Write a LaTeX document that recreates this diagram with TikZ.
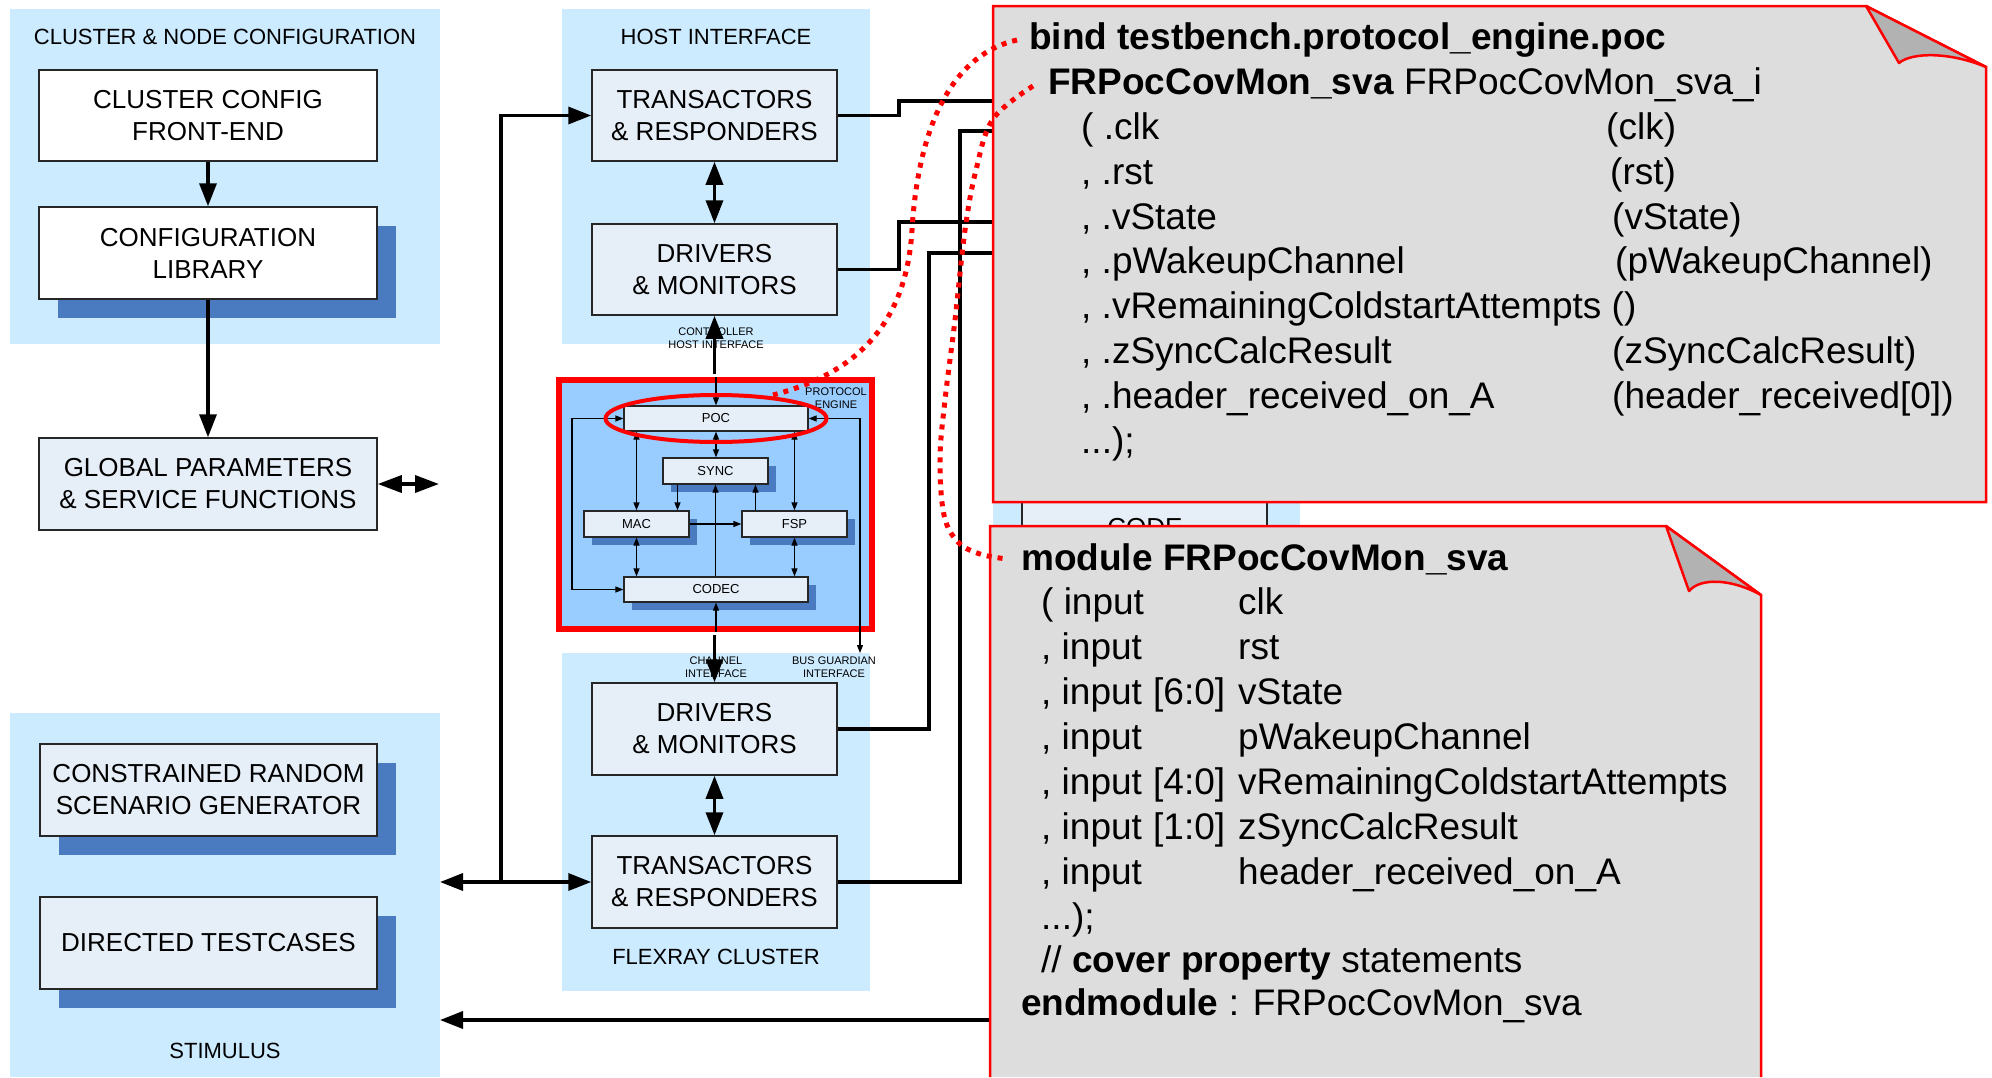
\documentclass[tikz,border=0pt]{standalone}
\usepackage{fontspec}
\setmainfont{Liberation Sans}
\usetikzlibrary{arrows.meta,shapes.geometric,shadows}
\definecolor{panel}{RGB}{204,235,255}
\definecolor{boxfill}{RGB}{230,238,248}
\definecolor{shadowc}{RGB}{74,122,191}
\definecolor{pefill}{RGB}{153,204,255}
\definecolor{notefill}{RGB}{221,221,221}
\definecolor{foldfill}{RGB}{178,178,178}
\tikzset{
  box/.style={draw=black!85, line width=1.5pt, fill=boxfill, inner sep=0pt, align=center, font=\fontsize{26}{32}\selectfont},
  wbox/.style={box, fill=white},
  sbox/.style={draw=black!85, line width=1.2pt, fill=boxfill, inner sep=0pt, font=\fontsize{13}{15}\selectfont},
  shadowbig/.style={drop shadow={shadow xshift=19pt, shadow yshift=-19pt, fill=shadowc, opacity=1}},
  shadowsmall/.style={drop shadow={shadow xshift=8pt, shadow yshift=-8pt, fill=shadowc, opacity=1}},
  ptitle/.style={font=\fontsize{22}{26}\selectfont, inner sep=0pt},
  tinylbl/.style={font=\fontsize{11}{13}\selectfont, align=center, inner sep=0pt},
  thk/.style={line width=3.5pt},
  thn/.style={line width=1.2pt},
  bigtip/.tip={Triangle[length=23pt,width=17pt]},
  midtip/.tip={Triangle[length=24pt,width=17pt]},
  smalltip/.tip={Triangle[length=8pt,width=6pt]},
  nt/.style={font=\fontsize{37}{45}\selectfont, anchor=base west, inner sep=0pt},
  dotc/.style={draw=red, line width=5pt, dash pattern=on 5pt off 6pt},
}
\begin{document}
\begin{tikzpicture}[x=1pt,y=-1pt]
\useasboundingbox (0,0) rectangle (1992,1077);

% ---------- panels ----------
\fill[panel] (10,9) rectangle (440,344);
\node[ptitle] (tCfg) at (225,37) {CLUSTER \& NODE CONFIGURATION};
\fill[panel] (562,9) rectangle (870,344);
\node[ptitle] (tHost) at (716,37) {HOST INTERFACE};
\fill[panel] (562,653) rectangle (870,991);
\node[ptitle] (tFlex) at (716,957) {FLEXRAY CLUSTER};
\fill[panel] (10,713) rectangle (440,1077);
\node[ptitle] (tStim) at (225,1051) {STIMULUS};

% ---------- big boxes ----------
\node[wbox, minimum width=338pt, minimum height=91pt] (ccf) at (208,115.5) {CLUSTER CONFIG\\FRONT-END};
\node[wbox, shadowbig, minimum width=338pt, minimum height=92pt] (clib) at (208,253) {CONFIGURATION\\LIBRARY};
\node[box, minimum width=338pt, minimum height=92pt] (gpsf) at (208,484) {GLOBAL PARAMETERS\\\& SERVICE FUNCTIONS};
\node[box, minimum width=245pt, minimum height=91pt] (trTop) at (714.5,115.5) {TRANSACTORS\\\& RESPONDERS};
\node[box, minimum width=245pt, minimum height=91pt] (drTop) at (714.5,269.5) {DRIVERS\\\& MONITORS};
\node[box, minimum width=245pt, minimum height=92pt] (drBot) at (714.5,729) {DRIVERS\\\& MONITORS};
\node[box, minimum width=245pt, minimum height=92pt] (trBot) at (714.5,882) {TRANSACTORS\\\& RESPONDERS};
\node[box, shadowbig, minimum width=337pt, minimum height=92pt] (crsg) at (208.5,790) {CONSTRAINED RANDOM\\SCENARIO GENERATOR};
\node[box, shadowbig, minimum width=337pt, minimum height=92pt] (dtc) at (208.5,943) {DIRECTED TESTCASES};

% ---------- interface labels ----------
\node[tinylbl] (chi) at (716,338.5) {CONTROLLER\\HOST INTERFACE};
\node[tinylbl] (chn) at (716,667.5) {CHANNEL\\INTERFACE};
\node[tinylbl] (bgi) at (834,667.5) {BUS GUARDIAN\\INTERFACE};

% ---------- protocol engine ----------
\node[draw=red, line width=6pt, fill=pefill, minimum width=313pt, minimum height=249pt, inner sep=0pt] (pe) at (715.5,504.5) {};
\node[tinylbl] (peLbl) at (836,398) {PROTOCOL\\ENGINE};
\node[sbox, minimum width=184pt, minimum height=25pt] (poc) at (716,418.5) {POC};
\node[sbox, shadowsmall, minimum width=105pt, minimum height=26pt] (sync) at (715.5,471) {SYNC};
\node[sbox, shadowsmall, minimum width=105pt, minimum height=26pt] (mac) at (636.5,524) {MAC};
\node[sbox, shadowsmall, minimum width=105pt, minimum height=26pt] (fsp) at (794.5,524) {FSP};
\node[sbox, shadowsmall, minimum width=184pt, minimum height=25pt] (codec) at (716,589.5) {CODEC};

\coordinate (lp) at (572,418.5);
\coordinate (bgEnd) at (860,653);
\draw[thn, smalltip-smalltip] (poc.west) -- (lp) |- (codec.west);
\draw[thn, smalltip-smalltip] (poc.east) -| (bgEnd);
\draw[thn, smalltip-smalltip] (mac.north |- poc.south) -- (mac.north);
\draw[thn, smalltip-smalltip] (fsp.north |- poc.south) -- (fsp.north);
\draw[thn, smalltip-smalltip] (poc.south) -- (poc.south |- sync.north);
\draw[thn, -smalltip] ([xshift=-38pt]sync.south) -- ([xshift=-38pt]sync.south |- mac.north);
\draw[thn, -smalltip] ([xshift=40pt]sync.south |- fsp.north) -- ([xshift=40pt]sync.south);
\draw[thn, -smalltip] (mac.east) -- (fsp.west);
\draw[thn, -smalltip] (codec.north -| sync.south) -- (sync.south);
\draw[thn, smalltip-smalltip] (mac.south) -- (mac.south |- codec.north);
\draw[thn, smalltip-smalltip] (fsp.south) -- (fsp.south |- codec.north);
\draw[thn, -smalltip] (pe.north -| poc.north) -- (poc.north);
\draw[thn, -smalltip] (pe.south -| codec.south) -- (codec.south);

\node[draw=red, line width=4pt, ellipse, minimum width=221pt, minimum height=47pt, inner sep=0pt] (ell) at (716,418.5) {};

% ---------- thick connectors ----------
\draw[thk, -bigtip] (ccf) -- (clib);
\draw[thk, -bigtip] (clib) -- (gpsf);
\coordinate (gpR) at (439,484);
\draw[thk, midtip-midtip] (gpsf.east) -- (gpR);
\draw[thk, bigtip-bigtip] (trTop) -- (drTop);
\draw[thk, -bigtip] ([yshift=3pt]pe.north -| drTop.south) -- (drTop.south);
\draw[thk, -bigtip] ([yshift=-3pt]pe.south -| drBot.north) -- (drBot.north);
\draw[thk, bigtip-bigtip] (drBot) -- (trBot);

\coordinate (stimR) at (440,882);
\coordinate (busX) at (501,882);
\draw[thk, bigtip-bigtip] (stimR) -- (trBot.west);
\draw[thk, -bigtip] (busX) |- (trTop.west);

% right side connectors
\coordinate (nA) at (993,101);
\coordinate (nB) at (993,131);
\coordinate (nC) at (993,222);
\coordinate (nD) at (993,253);
\draw[thk] (trTop.east) -- (899,115.5) -- (899,101) -- (nA);
\draw[thk] (trBot.east) -| (960,131) -- (nB);
\draw[thk] (drTop.east) -- (899,269.5) -- (899,222) -- (nC);
\draw[thk] (drBot.east) -| (929,253) -- (nD);
\coordinate (nE) at (990,1020);
\coordinate (stimB) at (440,1020);
\draw[thk, -bigtip] (nE) -- (stimB);

% ---------- partly hidden panel ----------
\fill[panel] (993,470) rectangle (1300,570);
\node[box, minimum width=245pt, minimum height=80pt] (codeBox) at (1144.5,525) {};
\node[font=\fontsize{26}{32}\selectfont, inner sep=0pt] (codeTxt) at (1145,528) {CODE};

% ---------- upper note ----------
\path[fill=notefill, draw=red, line width=2.5pt] (993,6) -- (1866,6) -- (1986,67) -- (1986,502) -- (993,502) -- cycle;
\path[fill=foldfill, draw=red, line width=2.5pt, line join=round] (1866,6) -- (1899,63) .. controls (1912,52) and (1950,52) .. (1986,67) -- cycle;

\node[nt] (u0) at (1029,49) {\bfseries bind testbench.protocol\_engine.poc};
\node[nt] (u1) at (1048,94) {\textbf{FRPocCovMon\_sva} FRPocCovMon\_sva\_i};
\node[nt] (u2) at (1081,139) {( .clk};
\node[nt] (u2b) at (1606,139) {(clk)};
\node[nt] (u3) at (1081,184) {, .rst};
\node[nt] (u3b) at (1610,184) {(rst)};
\node[nt] (u4) at (1081,229) {, .vState};
\node[nt] (u4b) at (1612,229) {(vState)};
\node[nt] (u5) at (1081,273.5) {, .pWakeupChannel};
\node[nt] (u5b) at (1615,273.5) {(pWakeupChannel)};
\node[nt] (u6) at (1081,318.5) {, .vRemainingColdstartAttempts ()};
\node[nt] (u7) at (1081,363.5) {, .zSyncCalcResult};
\node[nt] (u7b) at (1612,363.5) {(zSyncCalcResult)};
\node[nt] (u8) at (1081,408) {, .header\_received\_on\_A};
\node[nt] (u8b) at (1612,408) {(header\_received[0])};
\node[nt] (u9) at (1081,453) {...);};

% ---------- lower note ----------
\fill[notefill] (990,526) -- (1666,526) -- (1761,595) -- (1761,1077) -- (990,1077) -- cycle;
\draw[red, line width=2.5pt] (990,1077) -- (990,526) -- (1666,526) -- (1761,595) -- (1761,1077);
\path[fill=foldfill, draw=red, line width=2.5pt, line join=round] (1666,526) -- (1689,591) .. controls (1700,578) and (1730,578) .. (1761,595) -- cycle;

\node[nt] (m0) at (1021,570) {\bfseries module FRPocCovMon\_sva};
\node[nt] (m1a) at (1041,614) {( input};
\node[nt] (m1c) at (1238,614) {clk};
\node[nt] (m2a) at (1041,659) {, input};
\node[nt] (m2c) at (1238,659) {rst};
\node[nt] (m3a) at (1041,704) {, input};
\node[nt] (m3b) at (1153,704) {[6:0]};
\node[nt] (m3c) at (1238,704) {vState};
\node[nt] (m4a) at (1041,749) {, input};
\node[nt] (m4c) at (1238,749) {pWakeupChannel};
\node[nt] (m5a) at (1041,794) {, input};
\node[nt] (m5b) at (1153,794) {[4:0]};
\node[nt] (m5c) at (1238,794) {vRemainingColdstartAttempts};
\node[nt] (m6a) at (1041,839) {, input};
\node[nt] (m6b) at (1153,839) {[1:0]};
\node[nt] (m6c) at (1238,839) {zSyncCalcResult};
\node[nt] (m7a) at (1041,884) {, input};
\node[nt] (m7c) at (1238,884) {header\_received\_on\_A};
\node[nt] (m8) at (1041,929) {...);};
\node[nt] (m9) at (1041,972) {// \textbf{cover property} statements};
\node[nt] (m10) at (1021,1015) {\textbf{endmodule} : FRPocCovMon\_sva};

% ---------- dotted red callouts ----------
\coordinate (d1s) at (1017,40);
\coordinate (d1e) at (773,395);
\draw[dotc] (d1s) .. controls (950,55) and (918,130) .. (912,230) .. controls (906,330) and (850,375) .. (d1e);
\coordinate (d2s) at (1033,86);
\coordinate (d2e) at (1007,559);
\draw[dotc] plot[smooth, tension=0.6] coordinates {(d2s) (993,119) (976,170) (965,230) (955,320) (945,400) (940,459) (944,515) (958,542) (980,554) (d2e)};
\end{tikzpicture}
\end{document}
